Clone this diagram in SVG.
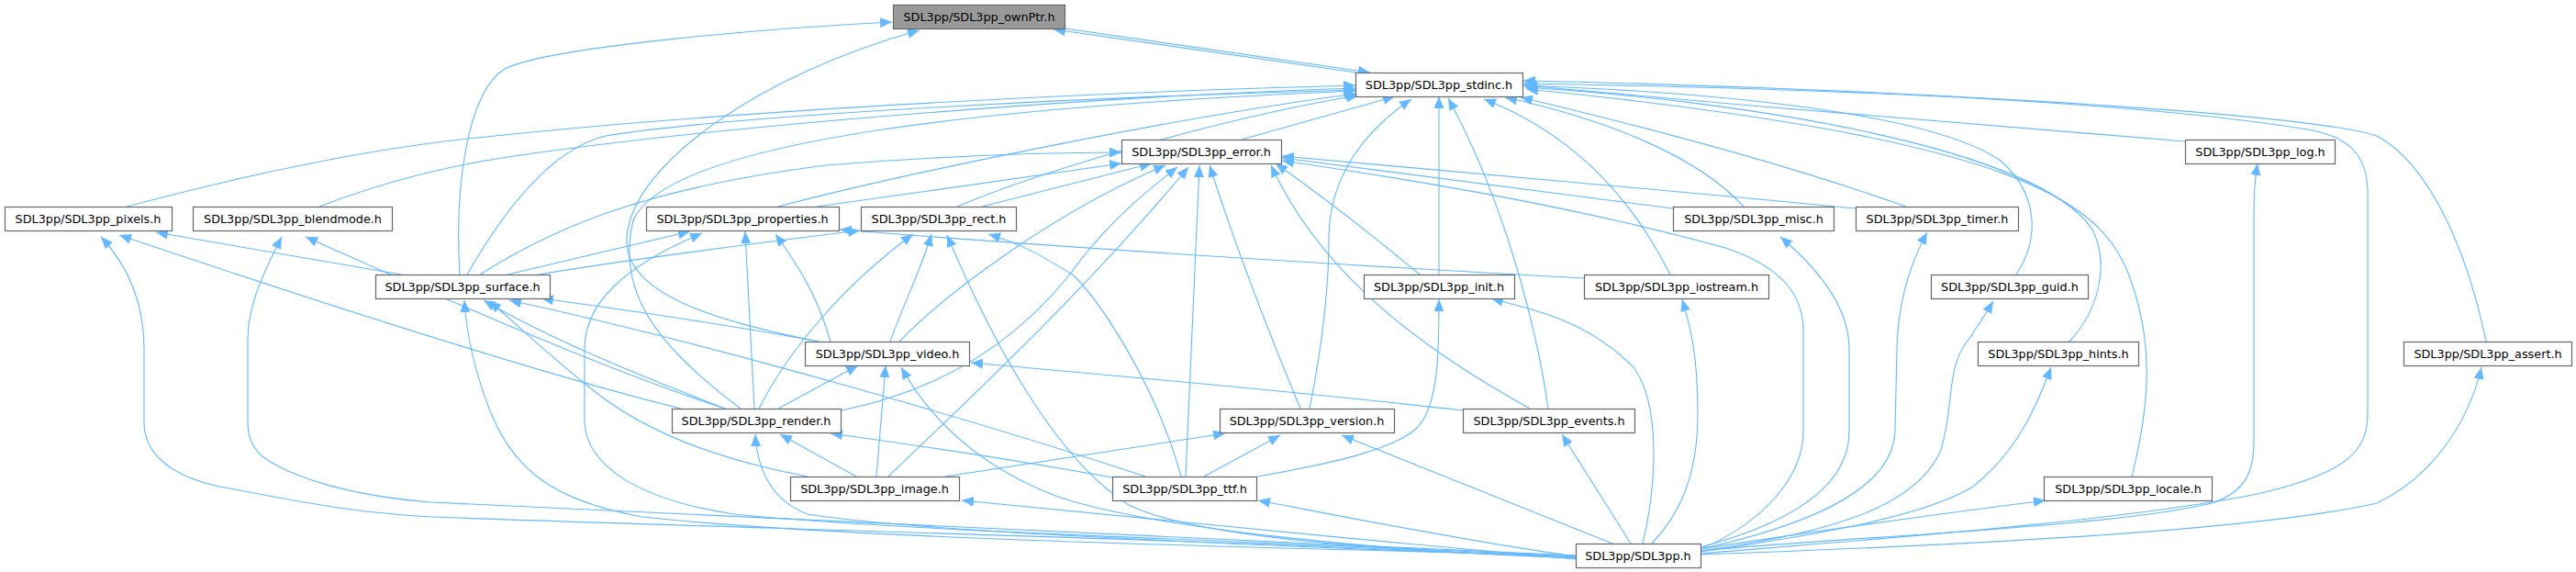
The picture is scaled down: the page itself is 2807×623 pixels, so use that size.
<svg xmlns="http://www.w3.org/2000/svg" width="2807" height="623" viewBox="0 0 2807 623">
<style>
.e{fill:none;stroke:#63b8ff;stroke-width:1.1;marker-end:url(#a)}
.n rect{fill:#fff;stroke:#666;stroke-width:1.2}
.n text{font-family:"DejaVu Sans","Liberation Sans",sans-serif;font-size:12.8px;text-anchor:middle;fill:#000}
#ownPtr rect{fill:#999}
</style>
<defs>
<marker id="a" markerUnits="userSpaceOnUse" markerWidth="14" markerHeight="11" refX="13" refY="5.5" orient="auto"><path d="M0,0 L13,5.5 L0,11 z" fill="#63b8ff"/></marker>
</defs>
<rect width="2807" height="623" fill="#fff"/>
<g id="edges">
<path class="e" d="M1478,79 L1148,32"/>
<path class="e" d="M1160,31 L1493,79"/>
<path class="e" d="M501,299 C495,200 510,100 550,75 C600,50 850,30 972,24"/>
<path class="e" d="M892,372 C780,350 680,320 683,260 C686,180 830,80 1002,33"/>
<path class="e" d="M1353,152 L1520,105"/>
<path class="e" d="M2381,154 C2200,140 1900,115 1660,93"/>
<path class="e" d="M138,225 C300,182 420,160 520,150 C800,120 1200,100 1477,93"/>
<path class="e" d="M348,225 C400,205 470,183 560,170 C800,135 1200,105 1477,96"/>
<path class="e" d="M509,299 C560,210 610,160 660,148 C800,125 1200,105 1477,98"/>
<path class="e" d="M848,225 C1000,185 1300,125 1478,102"/>
<path class="e" d="M1043,225 C1150,180 1350,125 1480,104"/>
<path class="e" d="M807,445 C720,380 670,320 690,240 C730,150 1100,115 1477,99"/>
<path class="e" d="M1568,299 L1568,105"/>
<path class="e" d="M1427,445 C1440,380 1448,320 1448,260 C1448,190 1490,140 1538,108"/>
<path class="e" d="M1687,445 C1675,360 1640,220 1578,107"/>
<path class="e" d="M1820,299 C1770,200 1700,140 1617,108"/>
<path class="e" d="M1900,225 C1850,170 1750,130 1640,106"/>
<path class="e" d="M2077,225 C1950,180 1800,140 1657,106"/>
<path class="e" d="M1853,603 C2000,590 2300,570 2460,538 C2560,515 2580,490 2580,450 L2580,210 C2580,170 2560,150 2520,142 C2300,105 1900,95 1660,91"/>
<path class="e" d="M2709,372 C2690,280 2650,180 2590,148 C2500,120 2000,95 1660,88"/>
<path class="e" d="M2197,299 C2220,265 2225,215 2180,175 C2100,120 1850,100 1662,93"/>
<path class="e" d="M2255,372 C2285,340 2300,290 2280,250 C2220,160 1900,110 1662,95"/>
<path class="e" d="M2323,519 C2340,450 2350,380 2320,300 C2290,220 2200,150 1663,97"/>
<path class="e" d="M523,299 C600,250 700,205 900,180 C1050,168 1150,166 1222,166"/>
<path class="e" d="M890,225 C1000,210 1150,188 1222,178"/>
<path class="e" d="M1070,225 L1255,178"/>
<path class="e" d="M1823,227 C1650,205 1500,185 1397,172"/>
<path class="e" d="M2022,227 C1800,205 1550,185 1397,170"/>
<path class="e" d="M1547,299 C1500,260 1450,220 1390,178"/>
<path class="e" d="M1667,445 C1550,380 1440,300 1385,180"/>
<path class="e" d="M1853,598 C1920,570 1965,520 1965,470 L1965,360 C1965,320 1940,290 1880,270 C1700,220 1500,190 1397,175"/>
<path class="e" d="M980,372 C1030,320 1150,230 1270,180"/>
<path class="e" d="M917,447 C1050,420 1130,350 1180,280 C1220,230 1260,200 1283,182"/>
<path class="e" d="M968,519 C1050,440 1180,320 1295,182"/>
<path class="e" d="M1292,519 L1307,180"/>
<path class="e" d="M1417,445 C1390,380 1350,280 1318,180"/>
<path class="e" d="M1853,600 C2000,585 2300,575 2410,548 C2450,535 2456,510 2456,480 L2456,230 C2456,200 2458,190 2460,178"/>
<path class="e" d="M437,299 L170,253"/>
<path class="e" d="M742,445 C600,410 350,330 130,256"/>
<path class="e" d="M1717,608 C1400,590 800,575 470,563 C380,558 320,545 250,532 C180,520 157,490 157,460 L157,380 C157,330 140,290 110,258"/>
<path class="e" d="M1717,605 C1300,585 700,560 470,547 C380,540 320,520 290,500 C275,490 270,475 270,460 L270,370 C270,340 280,310 307,258"/>
<path class="e" d="M790,445 C650,400 450,310 333,258"/>
<path class="e" d="M1717,605 C1300,595 900,585 700,563 C600,545 560,510 535,450 C515,400 508,360 506,327"/>
<path class="e" d="M790,445 C700,410 600,370 527,327"/>
<path class="e" d="M880,519 C780,500 700,470 640,420 C590,380 560,350 533,328"/>
<path class="e" d="M1248,519 C1100,470 800,380 555,327"/>
<path class="e" d="M892,372 C800,355 700,340 590,325"/>
<path class="e" d="M553,299 L752,252"/>
<path class="e" d="M1717,606 C1400,590 1000,580 800,560 C700,545 640,510 637,460 L637,380 C637,330 680,290 765,254"/>
<path class="e" d="M822,445 L812,252"/>
<path class="e" d="M1726,303 C1400,285 1100,265 915,250"/>
<path class="e" d="M905,372 C890,320 870,290 845,255"/>
<path class="e" d="M587,299 C700,280 850,262 937,251"/>
<path class="e" d="M827,445 C860,380 920,310 995,255"/>
<path class="e" d="M970,372 C985,330 1005,290 1015,255"/>
<path class="e" d="M1717,607 C1500,600 1300,585 1230,550 C1150,500 1080,370 1032,256"/>
<path class="e" d="M1287,519 C1260,420 1200,330 1170,300 C1130,275 1110,265 1077,255"/>
<path class="e" d="M848,445 L935,398"/>
<path class="e" d="M955,519 L965,398"/>
<path class="e" d="M1717,608 C1500,600 1250,575 1150,540 C1060,505 1010,450 982,400"/>
<path class="e" d="M1594,447 C1400,425 1200,408 1058,395"/>
<path class="e" d="M1790,592 C1805,530 1810,440 1780,400 C1730,350 1680,340 1625,325"/>
<path class="e" d="M1370,519 C1450,505 1520,490 1545,465 C1568,440 1568,380 1568,326"/>
<path class="e" d="M1800,592 C1830,560 1850,520 1850,450 C1850,380 1840,350 1833,326"/>
<path class="e" d="M1853,596 C1950,570 2015,530 2015,470 L2015,380 C2015,340 1990,300 1940,258"/>
<path class="e" d="M1853,598 C1980,570 2063,530 2065,470 L2067,380 C2068,330 2080,290 2100,253"/>
<path class="e" d="M1853,600 C2000,580 2090,550 2115,490 C2130,440 2120,400 2145,370 C2155,355 2165,340 2172,328"/>
<path class="e" d="M1853,601 C2000,580 2100,560 2150,530 C2200,490 2220,440 2235,400"/>
<path class="e" d="M1853,604 C2100,595 2450,580 2590,548 C2650,520 2690,460 2704,400"/>
<path class="e" d="M1853,598 C2000,575 2150,555 2229,545"/>
<path class="e" d="M1757,592 L1462,474"/>
<path class="e" d="M1030,519 C1150,500 1250,485 1335,472"/>
<path class="e" d="M1312,519 L1395,474"/>
<path class="e" d="M1777,592 L1702,473"/>
<path class="e" d="M1717,607 C1400,595 1000,580 880,560 C840,545 825,510 823,473"/>
<path class="e" d="M933,519 L850,473"/>
<path class="e" d="M1212,520 C1100,500 1000,485 905,472"/>
<path class="e" d="M1717,609 C1500,590 1200,560 1048,545"/>
<path class="e" d="M1717,606 C1600,590 1450,560 1371,545"/>
</g>
<g id="ownPtr" class="n"><rect x="973.5" y="5.5" width="187" height="26"/><text x="1067" y="23">SDL3pp/SDL3pp_ownPtr.h</text></g>
<g id="stdinc" class="n"><rect x="1477.5" y="79.5" width="182" height="26"/><text x="1568" y="97">SDL3pp/SDL3pp_stdinc.h</text></g>
<g id="error" class="n"><rect x="1222.5" y="152.5" width="174" height="26"/><text x="1309" y="170">SDL3pp/SDL3pp_error.h</text></g>
<g id="log" class="n"><rect x="2381.5" y="152.5" width="163" height="26"/><text x="2463" y="170">SDL3pp/SDL3pp_log.h</text></g>
<g id="pixels" class="n"><rect x="5.5" y="225.5" width="182" height="26"/><text x="96" y="243">SDL3pp/SDL3pp_pixels.h</text></g>
<g id="blendmode" class="n"><rect x="210.5" y="225.5" width="217" height="26"/><text x="319" y="243">SDL3pp/SDL3pp_blendmode.h</text></g>
<g id="properties" class="n"><rect x="704.5" y="225.5" width="210" height="26"/><text x="809" y="243">SDL3pp/SDL3pp_properties.h</text></g>
<g id="rect" class="n"><rect x="938.5" y="225.5" width="169" height="26"/><text x="1023" y="243">SDL3pp/SDL3pp_rect.h</text></g>
<g id="misc" class="n"><rect x="1823.5" y="225.5" width="175" height="26"/><text x="1911" y="243">SDL3pp/SDL3pp_misc.h</text></g>
<g id="timer" class="n"><rect x="2022.5" y="225.5" width="177" height="26"/><text x="2111" y="243">SDL3pp/SDL3pp_timer.h</text></g>
<g id="surface" class="n"><rect x="409.5" y="299.5" width="190" height="26"/><text x="504" y="317">SDL3pp/SDL3pp_surface.h</text></g>
<g id="init" class="n"><rect x="1486.5" y="299.5" width="164" height="26"/><text x="1568" y="317">SDL3pp/SDL3pp_init.h</text></g>
<g id="iostream" class="n"><rect x="1726.5" y="299.5" width="201" height="26"/><text x="1827" y="317">SDL3pp/SDL3pp_iostream.h</text></g>
<g id="guid" class="n"><rect x="2104.5" y="299.5" width="171" height="26"/><text x="2190" y="317">SDL3pp/SDL3pp_guid.h</text></g>
<g id="video" class="n"><rect x="877.5" y="372.5" width="179" height="26"/><text x="967" y="390">SDL3pp/SDL3pp_video.h</text></g>
<g id="hints" class="n"><rect x="2155.5" y="372.5" width="175" height="26"/><text x="2243" y="390">SDL3pp/SDL3pp_hints.h</text></g>
<g id="assert" class="n"><rect x="2619.5" y="372.5" width="183" height="26"/><text x="2711" y="390">SDL3pp/SDL3pp_assert.h</text></g>
<g id="render" class="n"><rect x="732.5" y="445.5" width="184" height="26"/><text x="824" y="463">SDL3pp/SDL3pp_render.h</text></g>
<g id="version" class="n"><rect x="1329.5" y="445.5" width="190" height="26"/><text x="1424" y="463">SDL3pp/SDL3pp_version.h</text></g>
<g id="events" class="n"><rect x="1594.5" y="445.5" width="187" height="26"/><text x="1688" y="463">SDL3pp/SDL3pp_events.h</text></g>
<g id="image" class="n"><rect x="861.5" y="519.5" width="184" height="26"/><text x="953" y="537">SDL3pp/SDL3pp_image.h</text></g>
<g id="ttf" class="n"><rect x="1212.5" y="519.5" width="157" height="26"/><text x="1291" y="537">SDL3pp/SDL3pp_ttf.h</text></g>
<g id="locale" class="n"><rect x="2227.5" y="519.5" width="183" height="26"/><text x="2319" y="537">SDL3pp/SDL3pp_locale.h</text></g>
<g id="SDL3pp" class="n"><rect x="1717.5" y="592.5" width="136" height="26"/><text x="1785" y="610">SDL3pp/SDL3pp.h</text></g>
</svg>
